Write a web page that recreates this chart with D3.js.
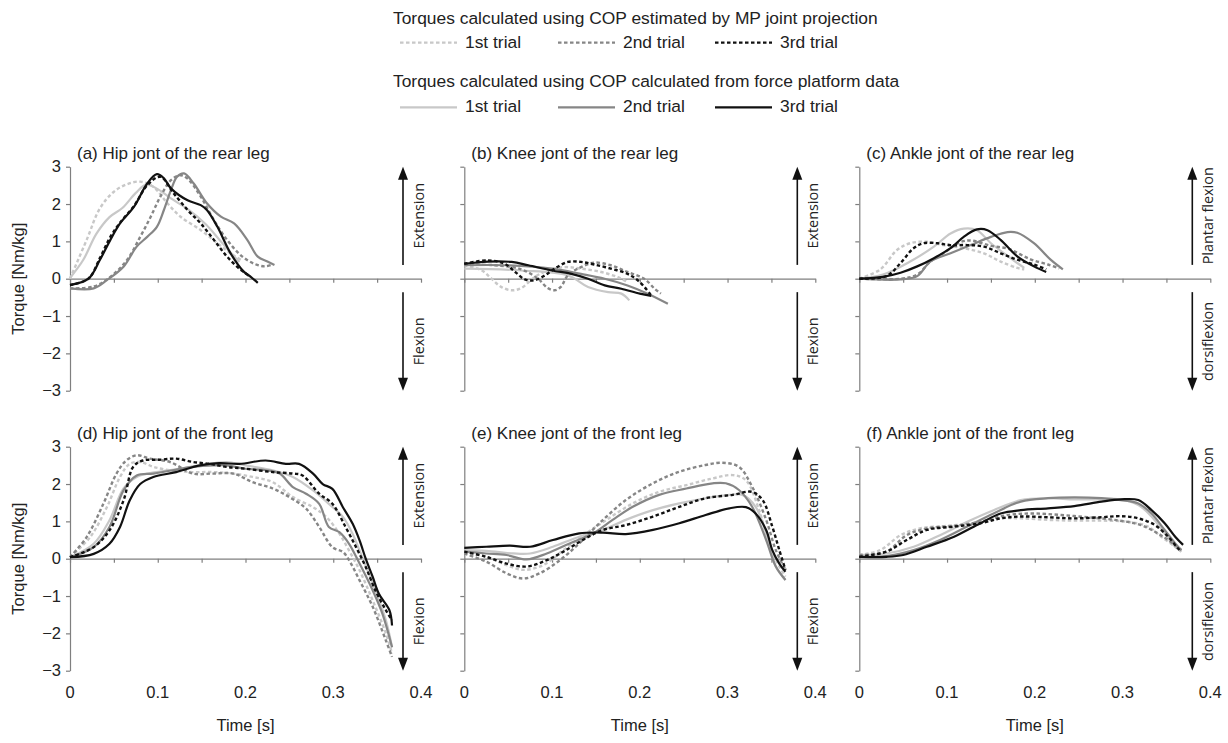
<!DOCTYPE html>
<html>
<head>
<meta charset="utf-8">
<script src="https://cdn.jsdelivr.net/npm/d3@7"></script>
<style>
  body { margin: 0; background: #fff; }
  svg { display: block; font-family: "Liberation Sans", Arial, sans-serif; }
</style>
</head>
<body>
<div id="chart"></div>
<script>
'use strict';

const timeTicks = [0, 0.1, 0.2, 0.3, 0.4];
const minorTimeTicks = [0, 0.05, 0.1, 0.15, 0.2, 0.25, 0.3, 0.35, 0.4];
const torqueTicks = [-3, -2, -1, 0, 1, 2, 3];
const trialNames = ['1st trial', '2nd trial', '3rd trial'];
const legendTitles = [
    'Torques calculated using COP estimated by MP joint projection',
    'Torques calculated using COP calculated from force platform data'
];
const panelTitles = [
    '(a) Hip jont of the rear leg', '(b) Knee jont of the rear leg', '(c) Ankle jont of the rear leg',
    '(d) Hip jont of the front leg', '(e) Knee jont of the front leg', '(f) Ankle jont of the front leg'
];
const upLabels = ['Extension', 'Extension', 'Plantar flexion', 'Extension', 'Extension', 'Plantar flexion'];
const downLabels = ['Flexion', 'Flexion', 'dorsiflexion', 'Flexion', 'Flexion', 'dorsiflexion'];

// [time s, torque Nm/kg]
// (a) hip, rear leg
const hipRearMP1 = [[0,0],[0.019,1.04],[0.034,1.88],[0.05,2.33],[0.065,2.53],[0.08,2.6],[0.095,2.46],[0.111,2.02],[0.126,1.66],[0.149,1.3],[0.168,0.95],[0.183,0.68],[0.195,0.5]];
const hipRearMP2 = [[0,-0.26],[0.027,-0.21],[0.046,0.05],[0.065,0.5],[0.08,1.12],[0.092,1.66],[0.103,2.2],[0.115,2.64],[0.126,2.77],[0.134,2.68],[0.149,2.2],[0.164,1.57],[0.179,1.04],[0.195,0.62],[0.21,0.4],[0.222,0.33],[0.231,0.38]];
const hipRearMP3 = [[0,-0.17],[0.021,0],[0.034,0.55],[0.046,1.12],[0.057,1.5],[0.073,1.95],[0.088,2.5],[0.103,2.73],[0.118,2.29],[0.134,1.84],[0.149,1.48],[0.164,1.04],[0.179,0.59],[0.195,0.23],[0.206,0.05]];
const hipRearFP1 = [[0,0.02],[0.015,0.5],[0.03,1.2],[0.045,1.65],[0.06,1.9],[0.075,2.3],[0.087,2.52],[0.1,2.4],[0.115,2.15],[0.135,1.85],[0.155,1.45],[0.17,1.05],[0.183,0.7],[0.193,0.45]];
const hipRearFP2 = [[0,-0.26],[0.027,-0.26],[0.042,-0.04],[0.061,0.32],[0.076,0.86],[0.088,1.12],[0.099,1.39],[0.107,1.84],[0.115,2.37],[0.122,2.73],[0.13,2.82],[0.141,2.55],[0.156,2.02],[0.172,1.66],[0.187,1.48],[0.202,1.04],[0.214,0.59],[0.225,0.46],[0.233,0.37]];
const hipRearFP3 = [[0,-0.17],[0.021,0],[0.034,0.5],[0.046,1.04],[0.057,1.48],[0.073,1.93],[0.088,2.55],[0.099,2.8],[0.107,2.69],[0.115,2.42],[0.134,2.1],[0.149,1.97],[0.156,1.84],[0.168,1.39],[0.183,0.68],[0.198,0.19],[0.206,0.05],[0.214,-0.11]];

// (b) knee, rear leg
const kneeRearMP1 = [[0,0.36],[0.02,0.22],[0.031,0],[0.042,-0.22],[0.054,-0.31],[0.065,-0.25],[0.08,0.04],[0.095,0.22],[0.114,0.31],[0.133,0.27],[0.156,0.18],[0.175,0.04],[0.186,-0.09]];
const kneeRearMP2 = [[0,0.37],[0.035,0.36],[0.065,0.25],[0.084,0],[0.095,-0.25],[0.103,-0.31],[0.11,-0.22],[0.118,0.09],[0.133,0.31],[0.148,0.43],[0.167,0.36],[0.186,0.18],[0.205,0],[0.217,-0.27],[0.224,-0.4]];
const kneeRearMP3 = [[0,0.4],[0.027,0.49],[0.046,0.4],[0.058,0.18],[0.069,-0.02],[0.08,-0.04],[0.092,0.09],[0.103,0.27],[0.118,0.45],[0.133,0.45],[0.148,0.38],[0.167,0.27],[0.186,0.13],[0.2,-0.09],[0.213,-0.45]];
const kneeRearFP1 = [[0,0.27],[0.065,0.22],[0.118,0.09],[0.141,-0.22],[0.164,-0.36],[0.179,-0.4],[0.188,-0.58]];
const kneeRearFP2 = [[0,0.36],[0.046,0.36],[0.1,0.27],[0.133,0.13],[0.16,0],[0.186,-0.18],[0.209,-0.4],[0.232,-0.67]];
const kneeRearFP3 = [[0,0.4],[0.027,0.46],[0.054,0.45],[0.073,0.36],[0.1,0.22],[0.122,0.13],[0.141,0],[0.16,-0.18],[0.179,-0.27],[0.2,-0.4],[0.213,-0.46]];

// (c) ankle, rear leg
const ankleRearMP1 = [[0,0],[0.024,0.25],[0.043,0.77],[0.058,0.95],[0.077,0.99],[0.096,0.9],[0.119,0.82],[0.142,0.68],[0.161,0.46],[0.18,0.29],[0.188,0.25]];
const ankleRearMP2 = [[0,0],[0.047,0],[0.066,0.11],[0.081,0.46],[0.096,0.68],[0.115,0.98],[0.128,1.02],[0.15,0.88],[0.17,0.8],[0.195,0.52],[0.215,0.38],[0.228,0.28]];
const ankleRearMP3 = [[0,0],[0.031,0.07],[0.047,0.42],[0.062,0.82],[0.073,0.95],[0.089,0.95],[0.104,0.9],[0.123,0.9],[0.142,0.86],[0.161,0.68],[0.18,0.51],[0.199,0.38],[0.213,0.25]];
const ankleRearFP1 = [[0,0],[0.027,0.11],[0.058,0.46],[0.085,0.86],[0.104,1.21],[0.119,1.34],[0.134,1.3],[0.15,0.95],[0.165,0.68],[0.18,0.42],[0.188,0.29]];
const ankleRearFP2 = [[0,0],[0.047,-0.02],[0.066,0.07],[0.081,0.46],[0.104,0.68],[0.127,0.9],[0.15,1.12],[0.169,1.25],[0.18,1.23],[0.199,0.95],[0.218,0.51],[0.232,0.25]];
const ankleRearFP3 = [[0,0],[0.027,0.05],[0.047,0.16],[0.066,0.33],[0.085,0.55],[0.104,0.82],[0.119,1.12],[0.134,1.32],[0.146,1.3],[0.161,1.04],[0.18,0.6],[0.199,0.33],[0.213,0.18]];

// (d) hip, front leg
const hipFrontMP1 = [[0,0.04],[0.023,0.58],[0.042,1.38],[0.057,2.19],[0.068,2.54],[0.08,2.59],[0.095,2.46],[0.114,2.37],[0.14,2.32],[0.163,2.32],[0.186,2.28],[0.208,2.19],[0.231,2.05],[0.254,1.65],[0.277,1.38],[0.292,1.12],[0.307,0.67],[0.318,0.22],[0.33,-0.31],[0.345,-1.12],[0.36,-2.0],[0.367,-2.54]];
const hipFrontMP2 = [[0,0.04],[0.019,0.58],[0.038,1.47],[0.053,2.28],[0.064,2.63],[0.076,2.77],[0.091,2.68],[0.114,2.59],[0.14,2.28],[0.163,2.28],[0.186,2.28],[0.208,2.05],[0.231,1.88],[0.25,1.65],[0.269,1.34],[0.284,0.85],[0.299,0.31],[0.311,0.18],[0.318,-0.04],[0.33,-0.58],[0.345,-1.29],[0.36,-2.19],[0.367,-2.63]];
const hipFrontMP3 = [[0,0.04],[0.027,0.31],[0.045,0.76],[0.061,1.56],[0.072,2.46],[0.083,2.63],[0.102,2.65],[0.121,2.68],[0.14,2.59],[0.159,2.54],[0.178,2.46],[0.2,2.41],[0.231,2.32],[0.254,2.28],[0.265,2.23],[0.284,1.74],[0.299,1.47],[0.314,0.85],[0.326,0.31],[0.337,-0.22],[0.348,-0.85],[0.36,-1.38],[0.367,-1.65]];
const hipFrontFP1 = [[0,0.04],[0.027,0.4],[0.045,1.03],[0.061,1.88],[0.076,2.19],[0.098,2.32],[0.125,2.41],[0.148,2.5],[0.178,2.59],[0.2,2.5],[0.231,2.37],[0.254,2.19],[0.277,1.83],[0.295,1.47],[0.311,1.12],[0.322,0.67],[0.333,0.04],[0.348,-0.85],[0.36,-1.65],[0.367,-2.37]];
const hipFrontFP2 = [[0,0.04],[0.027,0.31],[0.045,0.85],[0.061,1.83],[0.076,2.23],[0.095,2.28],[0.117,2.37],[0.14,2.46],[0.163,2.5],[0.178,2.5],[0.2,2.41],[0.223,2.37],[0.239,2.28],[0.254,1.92],[0.269,1.74],[0.284,1.47],[0.295,0.85],[0.307,0.71],[0.318,0.4],[0.33,-0.13],[0.345,-0.85],[0.356,-1.47],[0.367,-2.37]];
const hipFrontFP3 = [[0,0.04],[0.027,0.13],[0.045,0.4],[0.057,0.85],[0.068,1.56],[0.08,2.0],[0.095,2.19],[0.121,2.32],[0.148,2.5],[0.17,2.56],[0.193,2.54],[0.223,2.63],[0.246,2.54],[0.261,2.54],[0.277,2.28],[0.288,2.0],[0.299,1.87],[0.311,1.38],[0.322,0.94],[0.33,0.49],[0.337,0],[0.345,-0.49],[0.352,-0.94],[0.364,-1.38],[0.367,-1.79]];

// (e) knee, front leg
const kneeFrontMP1 = [[0,0.19],[0.025,0.05],[0.048,-0.17],[0.067,-0.3],[0.09,-0.17],[0.113,0.23],[0.139,0.68],[0.162,1.04],[0.192,1.48],[0.222,1.79],[0.253,1.97],[0.283,2.15],[0.306,2.24],[0.321,2.1],[0.336,1.3],[0.347,0.41],[0.359,-0.21],[0.366,-0.48]];
const kneeFrontMP2 = [[0,0.14],[0.025,-0.08],[0.048,-0.39],[0.067,-0.53],[0.086,-0.39],[0.109,-0.04],[0.131,0.41],[0.154,0.95],[0.184,1.57],[0.215,2.02],[0.245,2.33],[0.275,2.51],[0.294,2.57],[0.313,2.46],[0.328,1.93],[0.344,1.04],[0.355,0.23],[0.366,-0.3]];
const kneeFrontMP3 = [[0,0.19],[0.025,0.05],[0.048,-0.13],[0.071,-0.21],[0.094,-0.04],[0.113,0.19],[0.135,0.5],[0.158,0.77],[0.184,0.9],[0.215,1.13],[0.245,1.39],[0.275,1.62],[0.306,1.71],[0.328,1.79],[0.34,1.57],[0.351,0.86],[0.359,0.23],[0.366,-0.3]];
const kneeFrontFP1 = [[0,0.23],[0.025,0.21],[0.056,0.14],[0.075,0.14],[0.101,0.32],[0.131,0.59],[0.158,0.77],[0.184,1.04],[0.215,1.3],[0.245,1.48],[0.275,1.62],[0.302,1.71],[0.317,1.71],[0.332,1.39],[0.344,0.68],[0.355,-0.21],[0.366,-0.57]];
const kneeFrontFP2 = [[0,0.19],[0.025,0.14],[0.048,0.1],[0.071,-0.02],[0.094,0.14],[0.12,0.41],[0.147,0.68],[0.169,1.04],[0.192,1.39],[0.222,1.71],[0.253,1.88],[0.283,2.02],[0.298,2.02],[0.313,1.84],[0.328,1.39],[0.344,0.5],[0.355,-0.21],[0.366,-0.57]];
const kneeFrontFP3 = [[0,0.29],[0.025,0.32],[0.052,0.35],[0.075,0.32],[0.101,0.5],[0.131,0.68],[0.158,0.7],[0.184,0.66],[0.215,0.77],[0.245,0.95],[0.275,1.17],[0.302,1.35],[0.321,1.38],[0.332,1.21],[0.344,0.77],[0.351,0.23],[0.359,-0.13],[0.366,-0.35]];

// (f) ankle, front leg
const ankleFrontMP1 = [[0,0.1],[0.024,0.23],[0.047,0.63],[0.069,0.81],[0.1,0.88],[0.131,0.95],[0.161,1.08],[0.184,1.08],[0.215,1.04],[0.245,1.02],[0.276,1.02],[0.306,0.99],[0.329,0.86],[0.344,0.59],[0.36,0.32],[0.367,0.19]];
const ankleFrontMP2 = [[0,0.1],[0.031,0.19],[0.054,0.63],[0.077,0.81],[0.108,0.88],[0.138,0.99],[0.169,1.17],[0.199,1.21],[0.23,1.17],[0.26,1.11],[0.291,1.04],[0.321,0.9],[0.337,0.72],[0.352,0.5],[0.367,0.23]];
const ankleFrontMP3 = [[0,0.05],[0.031,0.19],[0.054,0.5],[0.077,0.77],[0.108,0.86],[0.138,0.95],[0.161,1.08],[0.184,1.13],[0.215,1.11],[0.245,1.08],[0.276,1.11],[0.298,1.14],[0.318,1.08],[0.337,0.9],[0.352,0.59],[0.363,0.28],[0.367,0.19]];
const ankleFrontFP1 = [[0,0.1],[0.031,0.14],[0.062,0.32],[0.092,0.63],[0.123,0.99],[0.153,1.3],[0.184,1.57],[0.215,1.62],[0.245,1.59],[0.276,1.59],[0.298,1.59],[0.318,1.44],[0.333,1.13],[0.348,0.68],[0.36,0.32],[0.367,0.19]];
const ankleFrontFP2 = [[0,0.05],[0.031,0.07],[0.062,0.23],[0.092,0.5],[0.123,0.86],[0.153,1.21],[0.184,1.53],[0.215,1.62],[0.245,1.64],[0.276,1.62],[0.298,1.57],[0.318,1.48],[0.333,1.21],[0.348,0.77],[0.36,0.41],[0.367,0.23]];
const ankleFrontFP3 = [[0,0.05],[0.031,0.05],[0.05,0.1],[0.077,0.32],[0.108,0.59],[0.138,0.95],[0.161,1.21],[0.184,1.3],[0.215,1.35],[0.245,1.41],[0.276,1.53],[0.298,1.59],[0.318,1.57],[0.333,1.3],[0.348,0.95],[0.36,0.59],[0.369,0.37]];

const mpSeries = [
    [hipRearMP1, hipRearMP2, hipRearMP3], [kneeRearMP1, kneeRearMP2, kneeRearMP3], [ankleRearMP1, ankleRearMP2, ankleRearMP3],
    [hipFrontMP1, hipFrontMP2, hipFrontMP3], [kneeFrontMP1, kneeFrontMP2, kneeFrontMP3], [ankleFrontMP1, ankleFrontMP2, ankleFrontMP3]
];
const fpSeries = [
    [hipRearFP1, hipRearFP2, hipRearFP3], [kneeRearFP1, kneeRearFP2, kneeRearFP3], [ankleRearFP1, ankleRearFP2, ankleRearFP3],
    [hipFrontFP1, hipFrontFP2, hipFrontFP3], [kneeFrontFP1, kneeFrontFP2, kneeFrontFP3], [ankleFrontFP1, ankleFrontFP2, ankleFrontFP3]
];

// styles
const trialColors = ['#c8c8c8', '#868686', '#111111'];
const axisColor = '#7f7f7f';
const dashPattern = '3.5,2.5';

const svgWidth = 1228;
const svgHeight = 743;
const colX = [70, 464.3, 859.3];
const rowTop = [166.7, 446.7];
const plotW = 351;
const plotH = 224;

const svg = d3.select('#chart').append('svg')
    .attr('width', svgWidth)
    .attr('height', svgHeight);

// legend
const legendRows = [
    { title: legendTitles[0], titleY: 24, itemY: 48, lineY: 42.7, dashed: true },
    { title: legendTitles[1], titleY: 87, itemY: 111.5, lineY: 107.3, dashed: false }
];
const legendLineX = [400, 558, 715];
const legendLineLen = 57;

legendRows.forEach(function(row) {
    svg.append('text')
        .attr('x', 393)
        .attr('y', row.titleY)
        .attr('font-size', '17.4px')
        .attr('fill', '#222')
        .text(row.title);

    trialNames.forEach(function(name, i) {
        svg.append('line')
            .attr('x1', legendLineX[i])
            .attr('x2', legendLineX[i] + legendLineLen)
            .attr('y1', row.lineY)
            .attr('y2', row.lineY)
            .attr('stroke', trialColors[i])
            .attr('stroke-width', 2.2)
            .attr('stroke-dasharray', row.dashed ? dashPattern : null);
        svg.append('text')
            .attr('x', legendLineX[i] + legendLineLen + 8)
            .attr('y', row.itemY)
            .attr('font-size', '17.4px')
            .attr('fill', '#222')
            .text(name);
    });
});

const lineGen = d3.line().curve(d3.curveCatmullRom.alpha(0.5));

panelTitles.forEach(function(title, p) {
    const col = p % 3;
    const row = Math.floor(p / 3);
    const x0 = colX[col];
    const yTop = rowTop[row];

    const x = d3.scaleLinear().domain([0, 0.4]).range([x0, x0 + plotW]);
    const y = d3.scaleLinear().domain([-3, 3]).range([yTop + plotH, yTop]);

    const g = svg.append('g');

    // y axis
    const yAxis = d3.axisLeft(y)
        .tickValues(torqueTicks)
        .tickSize(4)
        .tickSizeOuter(0)
        .tickPadding(5)
        .tickFormat(col === 0 ? (d => d < 0 ? '\u2212' + Math.abs(d) : String(d)) : () => '');
    const yg = g.append('g').attr('transform', `translate(${x0},0)`).call(yAxis);

    // x axis along zero
    const xAxis = d3.axisBottom(x)
        .tickValues(minorTimeTicks)
        .tickSize(4)
        .tickSizeOuter(0)
        .tickFormat(() => '');
    const xg = g.append('g').attr('transform', `translate(0,${y(0)})`).call(xAxis);

    [yg, xg].forEach(function(a) {
        a.select('.domain').attr('stroke', axisColor).attr('stroke-width', 1.2);
        a.selectAll('.tick line').attr('stroke', axisColor).attr('stroke-width', 1.2);
        a.selectAll('.tick text')
            .attr('font-family', '"Liberation Sans", Arial, sans-serif')
            .attr('font-size', '16.5px')
            .attr('fill', '#222');
    });

    // x tick labels below the lower row
    if (row === 1) {
        g.selectAll('text.xlab')
            .data(timeTicks)
            .enter()
            .append('text')
            .attr('class', 'xlab')
            .attr('x', d => x(d))
            .attr('y', yTop + plotH + 27)
            .attr('text-anchor', 'middle')
            .attr('font-size', '16.5px')
            .attr('fill', '#222')
            .text(d => d === 0 ? '0' : d.toFixed(1));
        g.append('text')
            .attr('x', x(0.2))
            .attr('y', yTop + plotH + 60)
            .attr('text-anchor', 'middle')
            .attr('font-size', '16.5px')
            .attr('fill', '#222')
            .text('Time [s]');
    }

    if (col === 0) {
        g.append('text')
            .attr('transform', `translate(18,${y(0)}) rotate(-90)`)
            .attr('text-anchor', 'middle')
            .attr('dominant-baseline', 'central')
            .attr('font-size', '16.5px')
            .attr('fill', '#222')
            .text('Torque [Nm/kg]');
    }

    // panel title
    g.append('text')
        .attr('x', x0 + 7)
        .attr('y', yTop - 7.5)
        .attr('font-size', '17px')
        .attr('fill', '#222')
        .text(title);

    // direction arrows
    const ax = x0 + 333;
    const arrows = [
        { from: 0.37, to: 3, label: upLabels[p] },
        { from: -0.36, to: -3, label: downLabels[p] }
    ];
    arrows.forEach(function(a) {
        const yTail = y(a.from);
        const yTip = y(a.to);
        const dir = yTip < yTail ? 1 : -1;
        g.append('line')
            .attr('x1', ax).attr('x2', ax)
            .attr('y1', yTail).attr('y2', yTip + dir * 10)
            .attr('stroke', '#111')
            .attr('stroke-width', 1.6);
        g.append('path')
            .attr('d', `M${ax},${yTip} L${ax - 5},${yTip + dir * 13} L${ax + 5},${yTip + dir * 13} Z`)
            .attr('fill', '#111');
        g.append('text')
            .attr('transform', `translate(${ax + 15},${(yTail + yTip) / 2}) rotate(-90)`)
            .attr('text-anchor', 'middle')
            .attr('dominant-baseline', 'central')
            .attr('font-family', '"Open Sans", "Noto Sans", sans-serif')
            .attr('font-size', '14.4px')
            .attr('fill', '#222')
            .text(a.label);
    });

    // curves: solid (force platform) and dashed (MP projection), black on top
    for (let i = 0; i < 3; i++) {
        g.append('path')
            .datum(fpSeries[p][i])
            .attr('d', lineGen.x(d => x(d[0])).y(d => y(d[1])))
            .attr('fill', 'none')
            .attr('stroke', trialColors[i])
            .attr('stroke-width', 2.2);
        g.append('path')
            .datum(mpSeries[p][i])
            .attr('d', lineGen.x(d => x(d[0])).y(d => y(d[1])))
            .attr('fill', 'none')
            .attr('stroke', trialColors[i])
            .attr('stroke-width', 2.4)
            .attr('stroke-dasharray', dashPattern);
    }
});
</script>
</body>
</html>
